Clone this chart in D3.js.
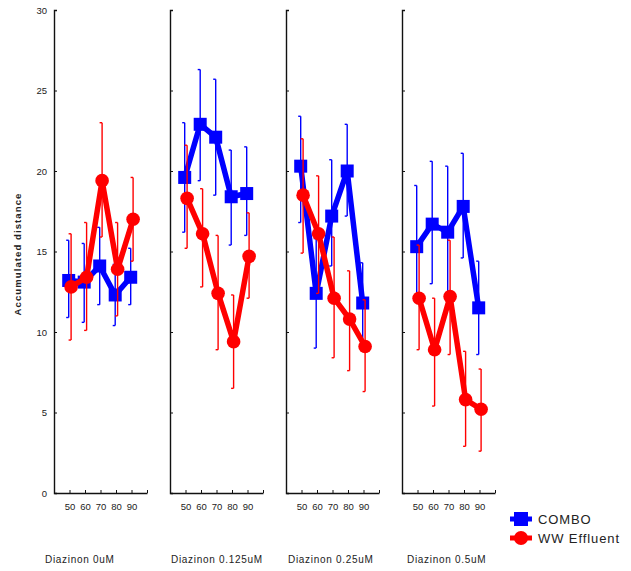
<!DOCTYPE html>
<html>
<head>
<meta charset="utf-8">
<script src="https://cdn.jsdelivr.net/npm/d3@7"></script>
<style>
  body { margin: 0; background: #fff; }
  svg text { font-family: "Liberation Sans", Arial, sans-serif; fill: #222; }
</style>
</head>
<body>
<script>
// chart values
const panels = ["Diazinon 0uM", "Diazinon 0.125uM", "Diazinon 0.25uM", "Diazinon 0.5uM"];
const temps = [50, 60, 70, 80, 90];
const seriesNames = ["COMBO", "WW Effluent"];

// means per panel (rows) per x value
const comboMean = [
  [13.2, 13.1, 14.1, 12.3, 13.4],
  [19.6, 22.9, 22.1, 18.4, 18.6],
  [20.3, 12.4, 17.2, 20.0, 11.8],
  [15.3, 16.7, 16.2, 17.8, 11.5]
];
const comboLow = [
  [10.9, 10.6, 11.7, 10.4, 11.7],
  [16.2, 19.4, 18.5, 15.4, 16.0],
  [16.8, 9.0, 14.1, 17.2, 9.3],
  [12.0, 13.0, 12.3, 14.6, 8.6]
];
const comboHigh = [
  [15.7, 15.5, 16.5, 14.2, 15.2],
  [23.0, 26.3, 25.7, 21.3, 21.5],
  [23.4, 15.8, 20.7, 22.9, 14.3],
  [19.1, 20.6, 20.3, 21.1, 14.4]
];
const wwMean = [
  [12.8, 13.4, 19.4, 13.9, 17.0],
  [18.3, 16.1, 12.4, 9.4, 14.7],
  [18.5, 16.1, 12.1, 10.8, 9.1],
  [12.1, 8.9, 12.2, 5.8, 5.2]
];
const wwLow = [
  [9.5, 10.1, 15.9, 11.0, 14.4],
  [15.2, 12.8, 8.9, 6.5, 12.1],
  [14.9, 12.4, 8.4, 7.6, 6.3],
  [8.9, 5.4, 8.6, 2.9, 2.6]
];
const wwHigh = [
  [16.1, 16.8, 23.0, 16.8, 19.6],
  [21.6, 18.9, 16.0, 12.3, 17.4],
  [22.0, 19.7, 15.9, 13.8, 12.0],
  [15.4, 12.1, 15.7, 8.8, 7.7]
];
const yTicks = [0, 5, 10, 15, 20, 25, 30];

const W = 631, H = 571;
const svg = d3.select("body").append("svg").attr("width", W).attr("height", H);

const y = d3.scaleLinear().domain([0, 30]).range([493, 10]);
const panelX = d3.scaleLinear().domain([0, 1]).range([54, 170]);
const x = d3.scaleLinear().domain([40, 100]).range([0, 93]);

const blue = "#0000ff", red = "#ff0000";

const series = [
  { name: seriesNames[0], mean: comboMean, low: comboLow, high: comboHigh, color: blue, dx: -0.8, shape: "square" },
  { name: seriesNames[1], mean: wwMean, low: wwLow, high: wwHigh, color: red, dx: 1.6, shape: "circle" }
];

panels.forEach((title, p) => {
  const g = svg.append("g").attr("transform", `translate(${panelX(p)},0)`);

  // y axis
  const ya = g.append("g").call(d3.axisLeft(y).tickValues(yTicks).tickSize(-3).tickFormat(p === 0 ? d3.format("d") : ""));
  ya.select(".domain").attr("stroke", "#111").attr("stroke-width", 1.4);
  ya.selectAll(".tick line").attr("stroke", "#111");
  ya.selectAll("text").attr("font-size", 9.5).attr("x", -7);

  // x axis
  const xa = g.append("g").attr("transform", `translate(0,${y(0)})`)
    .call(d3.axisBottom(x).tickValues([50, 60, 70, 80, 90, 100]).tickSize(-3).tickSizeOuter(0)
      .tickFormat(d => d === 100 ? "" : d));
  xa.select(".domain").attr("stroke", "#111").attr("stroke-width", 1.4);
  xa.selectAll(".tick line").attr("stroke", "#111");
  xa.selectAll("text").attr("font-size", 9.5).attr("y", 10);

  const line = d3.line();

  series.forEach(s => {
    const pts = temps.map((t, i) => ({
      x: x(t) + s.dx, m: s.mean[p][i], lo: s.low[p][i], hi: s.high[p][i]
    }));
    // error bars
    const eb = g.append("g").attr("stroke", s.color).attr("stroke-width", 1.4).attr("fill", "none");
    eb.selectAll("line.v").data(pts).join("line").attr("class", "v")
      .attr("x1", d => d.x).attr("x2", d => d.x)
      .attr("y1", d => y(d.lo)).attr("y2", d => y(d.hi));
    eb.selectAll("line.c1").data(pts).join("line").attr("class", "c1")
      .attr("x1", d => d.x - 2.5).attr("x2", d => d.x)
      .attr("y1", d => y(d.hi)).attr("y2", d => y(d.hi));
    eb.selectAll("line.c2").data(pts).join("line").attr("class", "c2")
      .attr("x1", d => d.x - 2.5).attr("x2", d => d.x)
      .attr("y1", d => y(d.lo)).attr("y2", d => y(d.lo));
    // mean line
    g.append("path")
      .attr("d", line(pts.map(d => [d.x, y(d.m)])))
      .attr("fill", "none").attr("stroke", s.color).attr("stroke-width", 5.5)
      .attr("stroke-linejoin", "round");
    // markers
    if (s.shape === "square") {
      g.selectAll(null).data(pts).join("rect")
        .attr("x", d => d.x - 6.5).attr("y", d => y(d.m) - 6.5)
        .attr("width", 13).attr("height", 13).attr("fill", s.color);
    } else {
      g.selectAll(null).data(pts).join("circle")
        .attr("cx", d => d.x).attr("cy", d => y(d.m)).attr("r", 6.8).attr("fill", s.color);
    }
  });
});

// panel titles
const titleX = [45, 171, 288, 407];
svg.selectAll("text.ptitle").data(panels).join("text").attr("class", "ptitle")
  .attr("x", (d, i) => titleX[i]).attr("y", 563)
  .attr("font-size", 10).attr("letter-spacing", 0.7).text(d => d);

// y label
svg.append("text")
  .attr("transform", "translate(21,254) rotate(-90)")
  .attr("text-anchor", "middle").attr("font-size", 9.5).attr("font-weight", "bold")
  .attr("letter-spacing", 1.1)
  .text("Accumulated distance");

// legend
const lg = svg.append("g").attr("transform", "translate(510,519)");
series.forEach((s, i) => {
  const row = lg.append("g").attr("transform", `translate(0,${i * 19})`);
  row.append("line").attr("x1", 0).attr("x2", 22).attr("y1", 0).attr("y2", 0)
    .attr("stroke", s.color).attr("stroke-width", 5);
  if (s.shape === "square") {
    row.append("rect").attr("x", 4).attr("y", -7).attr("width", 14).attr("height", 14).attr("fill", s.color);
  } else {
    row.append("circle").attr("cx", 11).attr("cy", 0).attr("r", 7).attr("fill", s.color);
  }
  row.append("text").attr("x", 28).attr("y", 5).attr("font-size", 13).attr("letter-spacing", 0.9).text(s.name);
});
</script>
</body>
</html>
